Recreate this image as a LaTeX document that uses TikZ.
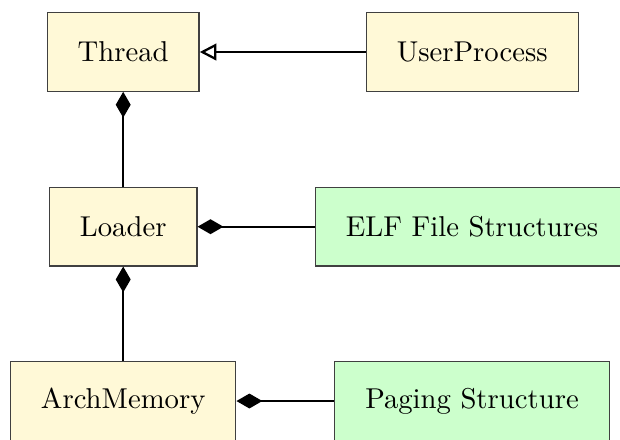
\documentclass[tikz,border=0pt]{standalone}
\usetikzlibrary{arrows.meta}
\definecolor{classyellow}{RGB}{255,249,215}
\definecolor{structgreen}{RGB}{204,255,204}
\begin{document}
\begin{tikzpicture}[x=0.3484pt,y=-0.3484pt,
  classbox/.style={draw=black!75,line width=0.45pt,fill=classyellow,
    inner xsep=10.6pt,inner ysep=0pt,minimum height=27.3pt,font=\normalsize},
  structbox/.style={classbox,fill=structgreen},
  link/.style={line width=0.8pt},
  composed/.style={link,-{Diamond[length=9pt,width=5.2pt]}},
  inherits/.style={link,-{Triangle[open,length=5.8pt,width=5.8pt]}}]
  \useasboundingbox (0,0) rectangle (620,439);
  % classes
  \node[classbox] (thread) at (123.2,52) {Thread};
  \node[classbox] (user) at (472.3,52) {UserProcess};
  \node[classbox] (loader) at (123.2,226.7) {Loader};
  \node[structbox,anchor=west] (elf) at (314.7,226.7) {ELF File Structures};
  \node[classbox] (arch) at (123.2,401) {ArchMemory};
  \node[structbox] (paging) at (472,401) {Paging Structure};
  % relations
  \draw[inherits] (user.west) -- (thread.east);
  \draw[composed] (loader.north) -- (thread.south);
  \draw[composed] (elf.west) -- (loader.east);
  \draw[composed] (arch.north) -- (loader.south);
  \draw[composed] (paging.west) -- (arch.east);
\end{tikzpicture}
\end{document}
